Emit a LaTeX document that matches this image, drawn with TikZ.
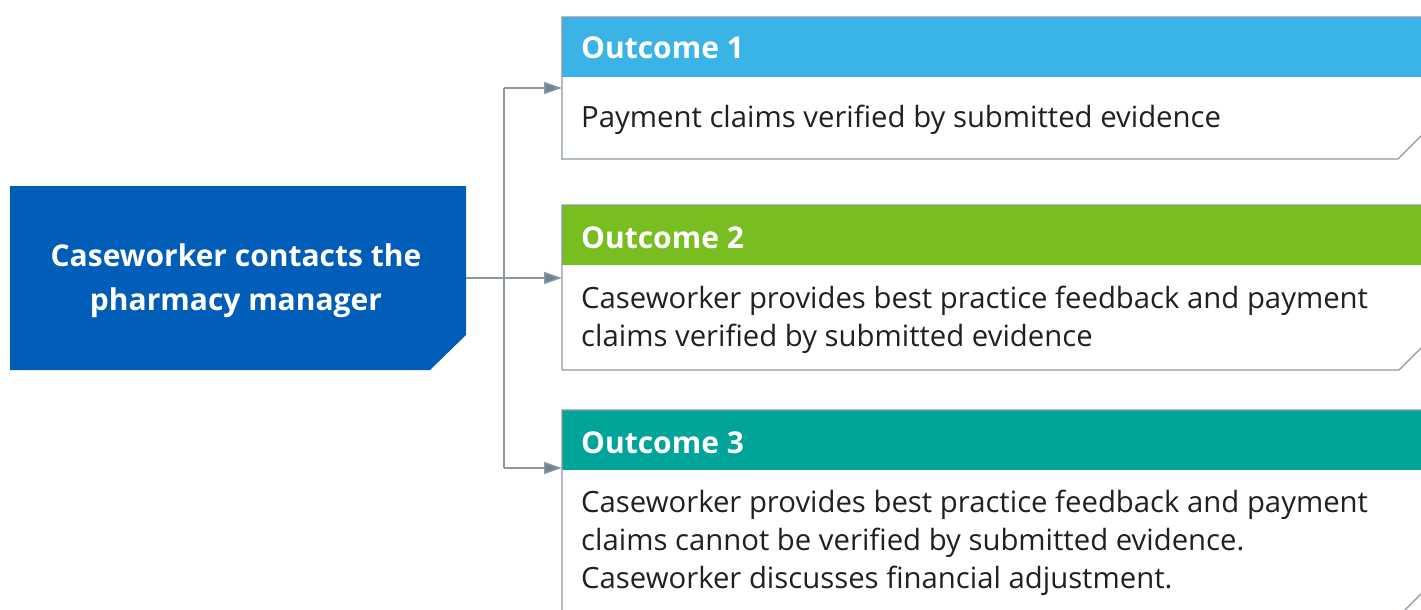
\documentclass[tikz,border=0pt]{standalone}
\usepackage{fontspec}
\setmainfont{Open Sans}
\usetikzlibrary{arrows.meta}
\definecolor{nhsblue}{HTML}{005EB8}
\definecolor{oc1}{HTML}{3AB4E6}
\definecolor{oc2}{HTML}{78BE20}
\definecolor{oc3}{HTML}{00A499}
\definecolor{edgegrey}{HTML}{8A98A4}
\definecolor{arrowgrey}{HTML}{6E8290}
\definecolor{txt}{HTML}{231F20}
\tikzset{
  outline/.style={draw=edgegrey, line width=1.3pt},
  conn/.style={draw=edgegrey, line width=1.5pt, -{Triangle[length=18pt,width=12pt,fill=arrowgrey]}},
  headtext/.style={anchor=base west, inner sep=0pt, text=white, font=\fontsize{30}{34}\selectfont\bfseries},
  bodytext/.style={anchor=north west, inner sep=0pt, text=txt, align=left, font=\fontsize{29.3}{38}\selectfont},
  maintext/.style={inner sep=0pt, text=white, align=center, font=\fontsize{30}{44}\selectfont\bfseries},
}
\begin{document}
\begin{tikzpicture}[x=1pt,y=-1pt]
\useasboundingbox (0,0) rectangle (1421,610);
\clip (0,0) rectangle (1421,610);
% left box
\fill[nhsblue] (10,186) -- (466,186) -- (466,335) -- (430,370) -- (10,370) -- cycle;
\node[maintext] (main) at (236,281) {Caseworker contacts the\\pharmacy manager};
\coordinate (mainR) at (466,278);
% outcome 1
\fill[oc1] (562,17) rectangle (1460,77);
\draw[outline] (1460,17) -- (562,17) -- (562,159) -- (1398,159) -- (1440,117);
\node[headtext] (h1) at (581,59) {Outcome 1};
\node[bodytext] (b1) at (581,105) {Payment claims verified by submitted evidence};
\coordinate (in1) at (562,88);
% outcome 2
\fill[oc2] (562,205) rectangle (1460,265);
\draw[outline] (1460,205) -- (562,205) -- (562,370) -- (1399,370) -- (1440,329);
\node[headtext] (h2) at (581,248) {Outcome 2};
\node[bodytext] (b2) at (581,286) {Caseworker provides best practice feedback and payment\\claims verified by submitted evidence};
\coordinate (in2) at (562,278);
% outcome 3
\fill[oc3] (562,410) rectangle (1460,470);
\draw[outline] (1460,410) -- (562,410) -- (562,617) -- (1398,617) -- (1440,575);
\node[headtext] (h3) at (581,453) {Outcome 3};
\node[bodytext] (b3) at (581,490) {Caseworker provides best practice feedback and payment\\claims cannot be verified by submitted evidence.\\Caseworker discusses financial adjustment.};
\coordinate (in3) at (562,468);
% connectors
\coordinate (trunkT) at (504,88);
\coordinate (trunkB) at (504,468);
\draw[draw=edgegrey, line width=1.5pt] (trunkT) -- (trunkB);
\draw[conn] (trunkT) -- (in1);
\draw[conn] (trunkB) -- (in3);
\draw[conn] (mainR) -- (in2);
\end{tikzpicture}
\end{document}
